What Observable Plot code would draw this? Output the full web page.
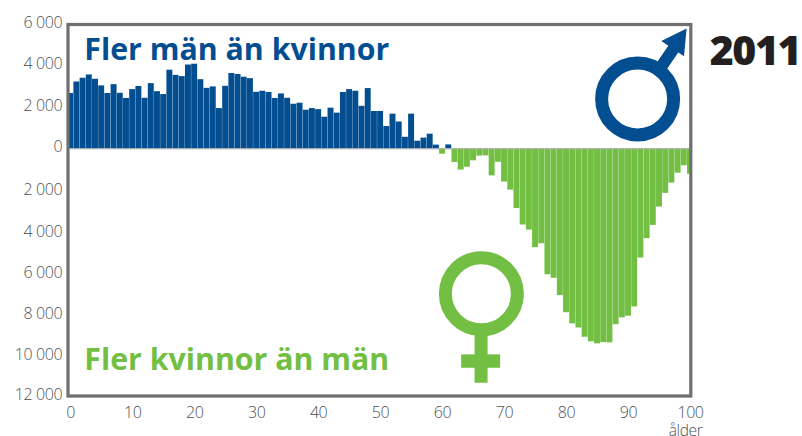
<!DOCTYPE html>
<html><head><meta charset="utf-8">
<style>html,body{margin:0;padding:0;background:#fff;overflow:hidden}svg{display:block}</style>
<script src="https://cdn.jsdelivr.net/npm/d3@7"></script>
<script src="https://cdn.jsdelivr.net/npm/@observablehq/plot@0.6"></script>
</head><body><div id="c"></div>
<script>
const excess = [2680,3240,3420,3580,3370,3050,2680,3110,2690,2440,2870,3020,2450,3160,2770,2630,3810,3560,3500,4060,4100,3350,2930,3000,1950,3030,3650,3600,3470,3400,2740,2790,2730,2440,2660,2450,2160,2210,1870,1950,1900,1530,1970,1730,2730,2870,2790,2060,2920,1810,1810,1080,1680,1300,560,1680,370,520,710,180,-260,190,-660,-1030,-890,-580,-350,-340,-1310,-650,-1610,-2000,-2890,-3690,-3940,-4790,-4600,-6100,-6270,-7110,-7940,-8480,-8680,-9130,-9350,-9450,-9390,-9400,-8520,-8190,-8110,-7660,-5290,-4350,-3710,-2820,-2160,-1660,-1180,-820,-1230];
const ages = excess.map((_, i) => i);
const xTicks = [0,10,20,30,40,50,60,70,80,90,100];
const yTicksUpper = [6000,4000,2000,0,-12000];
const yTicksLower = [-2000,-4000,-6000,-8000,-10000];
const blue = "#034e91", green = "#72bf44", gray = "#6f6f70", labelInk = "#505153";
const fontUi = "'Open Sans', sans-serif";
const fmt = v => String(Math.abs(v)).replace(/(\d)(\d{3})$/, "$1 $2");
const rows = ages.map(a => ({a, v: excess[a], x1: Math.max(a - 0.5, -0.3), x2: Math.min(a + 0.5, 100.1)}));
const yAxisOpts = {label: null, tickSize: 0, tickPadding: 8.5, tickFormat: fmt, fontSize: 16, fill: labelInk, fontWeight: 300, anchor: "left"};

const chart = Plot.plot({
  width: 802, height: 436,
  marginTop: 24.5, marginBottom: 40, marginLeft: 70.2, marginRight: 112,
  x: {domain: [0, 100], axis: null},
  y: {domain: [-12000, 6000], axis: null},
  style: {background: "#fff", fontFamily: fontUi},
  marks: [
    Plot.rectY(rows.filter(d => d.v > 0), {x1: "x1", x2: "x2", y1: 0, y2: "v", fill: blue, insetLeft: 0.12, insetRight: 0.12}),
    Plot.rectY(rows.filter(d => d.v < 0), {x1: "x1", x2: "x2", y1: 0, y2: "v", fill: green, insetLeft: 0.12, insetRight: 0.12}),
    Plot.ruleY([0], {x1: 0, x2: 100, stroke: "#a9a9a9", strokeWidth: 1}),
    Plot.rect([{}], {x1: -0.355, x2: 100.13, y1: -12000, y2: 6000, stroke: gray, strokeWidth: 3.2, fill: "none"}),

    // male symbol
    Plot.dot([{}], {x: 91.47, y: 2415, r: 36, stroke: blue, strokeWidth: 13, fill: "none"}),
    Plot.line([[95.1,3904],[97.27,4860]], {stroke: blue, strokeWidth: 12}),
    Plot.line([[99.37,5830],[95.29,5228],[98.95,4486],[99.37,5830]], {fill: blue, stroke: "none"}),

    // female symbol
    Plot.dot([{}], {x: 66.26, y: -7023, r: 36, stroke: green, strokeWidth: 13, fill: "none"}),
    Plot.rect([{}], {x1: 65.24, x2: 67.34, y1: -8803, y2: -11359, fill: green}),
    Plot.rect([{}], {x1: 63.08, x2: 69.37, y1: -9981, y2: -10631, fill: green}),

    // headings
    Plot.text(["Fler män än kvinnor"], {x: 2.2, y: 4770, text: d => d, textAnchor: "start", fill: blue, fontSize: 30.3, fontWeight: 700, lineAnchor: "middle", fontFamily: fontUi}),
    Plot.text(["Fler kvinnor än män"], {x: 2.2, y: -10240, text: d => d, textAnchor: "start", fill: green, fontSize: 30.3, fontWeight: 700, lineAnchor: "middle", fontFamily: fontUi}),
    Plot.text(["2011"], {x: 103.1, y: 4676, text: d => d, textAnchor: "start", fill: "#231f20", fontSize: 41, fontWeight: 800, lineAnchor: "middle", fontFamily: fontUi}),

    // axes
    Plot.axisY({...yAxisOpts, ticks: yTicksUpper, dy: -2}),
    Plot.axisY({...yAxisOpts, ticks: yTicksLower, dy: 0}),
    Plot.axisX({label: null, ticks: xTicks, tickSize: 0, tickPadding: 10.5, tickFormat: d => String(d), fontSize: 16, fill: labelInk, fontWeight: 300, anchor: "bottom"}),
    Plot.text(["ålder"], {x: 99.2, y: -12000, dy: 35, text: d => d, fill: labelInk, fontSize: 15.5, fontWeight: 300, fontFamily: fontUi})
  ]
});
chart.querySelectorAll("text").forEach(t => {
  const s = t.textContent.trim();
  if (s === "2011") t.style.letterSpacing = "-1.4px";
  else if (/^[\d ]+$/.test(s) || s === "ålder") t.style.letterSpacing = "-0.4px";
});
document.getElementById("c").appendChild(chart);
</script></body></html>
